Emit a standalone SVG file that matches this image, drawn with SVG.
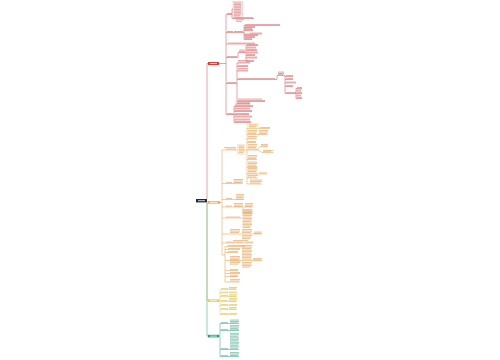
<svg xmlns="http://www.w3.org/2000/svg" width="500" height="360" viewBox="0 0 500 360">
<style>
.c{fill:none;stroke-width:0.5}
.cr{stroke:#d2474a}.co{stroke:#e99a3c}.cy{stroke:#e3c23a}.ct{stroke:#23a07c}
.t{fill:none;stroke-width:0.8}
.tr{stroke:#dd8a8a}.to{stroke:#e8ad70}.ty{stroke:#e2c860}.tt{stroke:#74bfa3}
.w{fill:none;stroke:#ffffff;stroke-width:0.8}
.bx{stroke-width:0.3}
</style>
<rect width="500" height="360" fill="#ffffff"/>
<g id="connectors">
<path class="c cy" d="M207 203V300.5H208"/>
<path class="c ct" d="M207 203V336H208"/>
<path class="c cr" d="M207 199V63.5H208"/>
<path class="c cr" d="M219 63.5H226M226 14.5V114.5"/>
<path class="c cr" d="M226 14.5H232M232 14.5V9H233M232 14.5V18.5H254"/>
<path class="c cr" d="M226 32.5H244M244 25.5V39.5M244 25.5H280M244 27.5H255M244 29H252M244 30.5H253M244 34H262M244 35.5H258M244 37.5H255M244 39.5H252"/>
<path class="c cr" d="M226 44H255"/>
<path class="c cr" d="M226 57.5H238V52.5H246M246 45.5V61.5M246 45.5H258M246 48H256M246 50.5H257M246 53H258M246 55.5H255M246 58H257M246 61.5H254"/>
<path class="c cr" d="M226 83.5H237M237 63V103.5M237 63H250M237 66.5H248M237 71H248M237 79.5H277V75.5H285M285 75.5V93.5M285 76.5H293M285 79.5H293M285 83H296M285 86.5H293M285 93.5H296M296 88.5V98.5M296 88.5H302M296 91H301M296 93.5H302M296 96H301M296 98.5H302M237 101.5H265M237 103.5H250"/>
<path class="c cr" d="M226 114.5H234M234 106.5V122.5M234 106.5H253M234 109H250M234 111.5H252M234 114.5H249M234 117H252M234 120H250M234 122.5H251"/>
<path class="c co" d="M220 202.5H222M222 150V255"/>
<path class="c co" d="M222 150H247M247 128.5V184M247 128.5H270M247 134.5H268M247 139H257M247 142.5H256M247 150H257M257 150C259 150 259 146.5 261 146.5H268M257 150C260 150 260 152.5 263 152.5H273M247 159.5H257M247 167.5H257M247 174H267M247 178H258M247 184H262"/>
<path class="c co" d="M222 183.5H243M222 199.5H244M222 207H253M243 207V213.5H253M222 218H242M222 234H262M222 243H253"/>
<path class="c co" d="M222 255H225M225 246.5V282M225 246.5H245M225 249.5H240M225 252.5H238M225 260.5H262M225 270.5H238M225 273.5H240M225 276.5H238M225 282H240"/>
<path class="c cy" d="M219 300.5H220M220 289.5V314.5M220 289.5H237M220 293H237M220 296.5H237M220 301.5H237M220 305.5H237M220 309.5H237M220 314.5H237"/>
<path class="c ct" d="M219 336H220M220 323.5V356.5M220 323.5H239M220 330.5H239M220 349.5H239M220 356.5H239"/>
</g>
<g id="root"><rect x="196" y="199" width="11" height="3.4" fill="#1f2940"/><path class="w" d="M198 200.7H205"/></g>
<g id="n-red"><rect x="208" y="62" width="11" height="3" fill="#d9413b"/><path class="w" d="M210 63.5H217"/></g>
<g id="n-orange"><rect x="207.5" y="201.2" width="12.5" height="2.4" fill="#f2a03d"/><path class="w" d="M209.5 202.4H218"/></g>
<g id="n-yellow"><rect x="208" y="299.3" width="11" height="2.6" fill="#f0cd2c"/><path class="w" d="M210 300.6H217"/></g>
<g id="n-teal"><rect x="208" y="334.8" width="11" height="2.6" fill="#1e9e75"/><path class="w" d="M210 336.1H217"/></g>
<g id="red-1"><rect class="bx" x="233" y="1.5" width="9.5" height="16" fill="#fbe9e9" stroke="#e08a8a"/><path class="t tr" d="M227 13.5H232M234 3H241M234 4.6H241M234 6.2H241M234 7.8H241M234 9.4H241M234 11H241M234 12.6H241M234 14.2H241M234 15.8H240M234 17.6H253M236 19.7H244M236 21.3H242"/></g>
<g id="red-2"><path class="t tr" d="M227 31.5H233M234 31.5H243M245 24.6H280M245 26.6H255M245 28.2H252M245 29.7H253M250 33.1H262M245 34.7H258M245 36.6H255M245 38.6H252"/></g>
<g id="red-3"><path class="t tr" d="M228 43.1H255"/></g>
<g id="red-4"><path class="t tr" d="M227 56.6H237M239 50.1H245M239 51.6H245M247 44.6H258M247 47.1H256M247 49.6H257M247 52.1H258M247 54.6H255M247 57.1H257M247 60.6H254"/></g>
<g id="red-5"><path class="t tr" d="M227 82.6H236M238 60.6H248M238 62.1H250M238 65.6H248M238 68.6H248M238 70.1H248M238 78.6H275M278 72.1H284M278 73.5H284M278 74.7H283M286 75.6H293M286 78.6H293M286 82.1H296M286 85.6H293M286 92.6H296M297 87.6H302M297 90.1H301M297 92.6H302M297 95.1H301M297 97.6H302M238 99.1H262M238 100.6H265M238 102.7H250"/></g>
<g id="red-6"><path class="t tr" d="M227 113.6H233M235 104.1H250M235 105.6H253M235 108.1H250M235 110.6H252M235 113.6H249M235 116.1H252M235 119.1H250M235 121.6H251"/></g>
<g id="or-1"><rect class="bx" x="247.8" y="123.8" width="10.5" height="4.4" fill="#fdf1c6" stroke="#efc77a"/><rect class="bx" x="237.5" y="144.5" width="7" height="10" fill="#fff6ea" stroke="#f1c893"/><path class="t to" d="M224 147.6H236M226 149.1H236M238.5 146H244M238.5 147.6H244M238.5 149.2H244M238.5 150.8H244M238.5 152.4H243M249 125H257M249 126.8H256M260 127.6H270M248 130.6H257M248 132H257M248 133.6H256M259 130.6H268M259 132H268M259 133.6H267M248 136.6H257M248 138.1H256M248 141.6H256M248 144.6H257M248 146.1H257M248 147.6H256M248 149.1H257M261 144.6H268M261 145.9H267M263 150.4H273M263 151.7H271M248 155.6H257M248 157.1H257M248 158.6H256M248 162.1H257M248 163.6H257M248 165.1H256M248 166.6H257M248 168.6H257M248 170.1H257M248 171.6H256M248 173.1H257M259 172.9H267M248 175.6H258M248 177.1H256M250 180.1H262M250 181.6H262M250 183.1H260"/></g>
<g id="or-2"><path class="t to" d="M226 182.6H232M233.5 179.5H243M233.5 181H243M233.5 182.5H242"/></g>
<g id="or-3"><path class="t to" d="M226 198.6H232M236 194.6H244M236 196.1H244M236 197.6H243M236 199.1H244"/></g>
<g id="or-4"><path class="t to" d="M226 206.1H232M234 203.6H243M234 205.1H243M234 206.5H242M245 203.6H253M245 205.1H253M245 206.5H252M244 211.1H253M244 212.6H252"/></g>
<g id="or-5"><path class="t to" d="M226 217.1H240M242.5 209.6H252M242.5 211.1H252M242.5 212.6H251M242.5 214.1H252M242.5 215.6H252M242.5 217.1H251M242.5 218.6H252M242.5 220.1H252M242.5 221.6H251M242.5 223.1H252M242.5 224.6H252M242.5 226.1H251M242.5 227.6H250"/></g>
<g id="or-6"><path class="t to" d="M230 229.6H240M230 231.1H240M230 232.6H239M242 229.6H252M242 231.1H252M242 232.6H251M242 235.6H252M242 237.1H251M242 238.6H250M254 232.1H262M254 233.5H261"/></g>
<g id="or-7"><path class="t to" d="M226 242.1H243M245 242.1H253M233 240.6H248"/></g>
<g id="or-8"><path class="t to" d="M228 245.6H245M228 248.6H240M228 251.6H238M230 256.6H240M230 258.1H240M230 259.6H239M230 261.1H240M230 262.6H240M230 264.1H238M242 245.6H252M242 247.1H252M242 248.6H251M242 250.1H252M242 251.6H252M242 253.1H251M242 254.6H252M242 256.1H252M242 257.6H251M242 259.1H252M242 262.6H252M242 264.1H251M242 265.6H252M242 267.1H250M253 258.6H262M253 259.9H261M230 269.6H238M230 272.6H240M230 275.1H238M230 276.5H237M230 279.6H240M230 281.1H239"/></g>
<g id="yl-1"><path class="t ty" d="M221 288.6H228M229 287.5H237M229 288.8H236M221 292.1H228M229 292.1H237M221 295.6H228M229 294.9H237M229 296.2H236M221 300.6H228M229 298.6H237M229 299.9H237M229 301.2H236M221 304.6H228M229 304.6H237M221 308.6H228M229 307.6H237M229 308.9H236M221 313.6H228M229 313.6H237"/></g>
<g id="tl-1"><path class="t tt" d="M221 322.6H228M230 320.1H239M230 321.5H239M230 322.9H238M221 329.6H228M230 325.6H239M230 327H239M230 328.4H238M230 329.8H239M221 348.6H228M230 333.3H239M230 334.8H239M230 336.3H238M230 337.8H239M230 339.3H239M230 340.8H238M230 342.3H239M230 343.8H239M230 345.3H238M230 346.8H239M230 348.3H238M221 355.6H228M230 352.6H239M230 354H239M230 355.5H238"/></g>
</svg>
